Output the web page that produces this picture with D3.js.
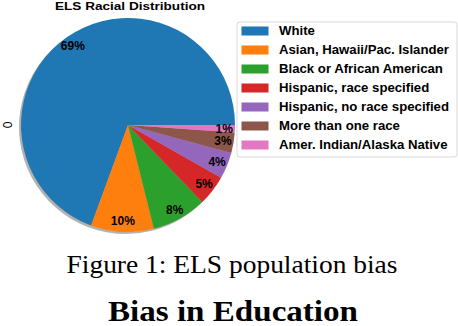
<!DOCTYPE html>
<html>
<head>
<meta charset="utf-8">
<script src="https://cdn.jsdelivr.net/npm/d3@7"></script>
<style>
  body { margin: 0; background: #fff; }
  svg { display: block; }
</style>
</head>
<body>
<div id="chart"></div>
<script>
// values (percent of ELS sample)
const categories = ["White", "Asian, Hawaii/Pac. Islander", "Black or African American",
  "Hispanic, race specified", "Hispanic, no race specified", "More than one race",
  "Amer. Indian/Alaska Native"];
const shares = [69.4, 9.5, 8.3, 4.6, 4.0, 3.1, 1.1];
const colors = ["#1f77b4", "#ff7f0e", "#2ca02c", "#d62728", "#9467bd", "#8c564b", "#e377c2"];

const W = 458, H = 326;
const cx = 128, cy = 125, r = 107;
const sans = "'Liberation Sans', Arial, sans-serif";
const serif = "'Liberation Serif', 'Times New Roman', serif";

const svg = d3.select("#chart").append("svg")
  .attr("width", W).attr("height", H);

const data = categories.map((c, i) => ({name: c, value: shares[i], color: colors[i]}));

// matplotlib style: start at 3 o'clock, go counter-clockwise
const pie = d3.pie().value(d => d.value).sort(null)
  .startAngle(Math.PI / 2).endAngle(Math.PI / 2 - 2 * Math.PI);
const arcs = pie(data);
const arc = d3.arc().innerRadius(0).outerRadius(r);
const labelArc = d3.arc().innerRadius(r * 0.9).outerRadius(r * 0.9);

// shadow
svg.append("g")
  .attr("transform", `translate(${cx - 2},${cy + 2})`)
  .selectAll("path")
  .data(arcs)
  .join("path")
  .attr("d", arc)
  .attr("fill", "#000")
  .attr("opacity", 0.3);

const g = svg.append("g").attr("transform", `translate(${cx},${cy})`);
g.selectAll("path.wedge")
  .data(arcs)
  .join("path")
  .attr("class", "wedge")
  .attr("d", arc)
  .attr("fill", d => d.data.color);

g.selectAll("text")
  .data(arcs)
  .join("text")
  .attr("transform", d => `translate(${labelArc.centroid(d)})`)
  .attr("text-anchor", "middle")
  .attr("dy", "0.36em")
  .style("font-family", sans)
  .style("font-weight", "bold")
  .style("font-size", "12px")
  .attr("fill", "#000")
  .text(d => d3.format(".0f")(d.data.value) + "%");

// title and y label
svg.append("text")
  .attr("x", 130).attr("y", 10)
  .attr("text-anchor", "middle")
  .attr("textLength", 150)
  .attr("lengthAdjust", "spacingAndGlyphs")
  .style("font-family", sans)
  .style("font-weight", "bold")
  .style("font-size", "11px")
  .text("ELS Racial Distribution");

svg.append("text")
  .attr("transform", `translate(12,${cy}) rotate(-90)`)
  .attr("text-anchor", "middle")
  .style("font-family", sans)
  .style("font-size", "12px")
  .text("0");

// legend
const lg = svg.append("g").attr("transform", "translate(237,22)");
lg.append("rect")
  .attr("width", 220).attr("height", 135)
  .attr("rx", 3)
  .attr("fill", "#fff").attr("fill-opacity", 0.85)
  .attr("stroke", "#d8d8d8");

const rows = lg.selectAll("g.row")
  .data(data)
  .join("g")
  .attr("class", "row")
  .attr("transform", (d, i) => `translate(0,${9 + i * 19})`);
rows.append("rect")
  .attr("x", 4.5).attr("y", -4.5)
  .attr("width", 27).attr("height", 9)
  .attr("fill", d => d.color);
const labels = rows.append("text")
  .attr("x", 42).attr("dy", "0.36em")
  .style("font-family", sans)
  .style("font-weight", "bold")
  .style("font-size", "12px")
  .text(d => d.name);

// stretch legend text so the longest entry spans like the original
const lens = labels.nodes().map(n => n.getComputedTextLength());
const k = 170 / lens[1];
labels.each(function(d, i) {
  d3.select(this).attr("textLength", lens[i] * k).attr("lengthAdjust", "spacingAndGlyphs");
});

// caption
svg.append("text")
  .attr("x", 232).attr("y", 273)
  .attr("text-anchor", "middle")
  .attr("textLength", 331)
  .attr("lengthAdjust", "spacingAndGlyphs")
  .style("font-family", serif)
  .style("font-size", "25px")
  .text("Figure 1: ELS population bias");

svg.append("text")
  .attr("x", 233).attr("y", 321)
  .attr("text-anchor", "middle")
  .attr("textLength", 250)
  .attr("lengthAdjust", "spacingAndGlyphs")
  .style("font-family", serif)
  .style("font-weight", "bold")
  .style("font-size", "30px")
  .text("Bias in Education");
</script>
</body>
</html>
